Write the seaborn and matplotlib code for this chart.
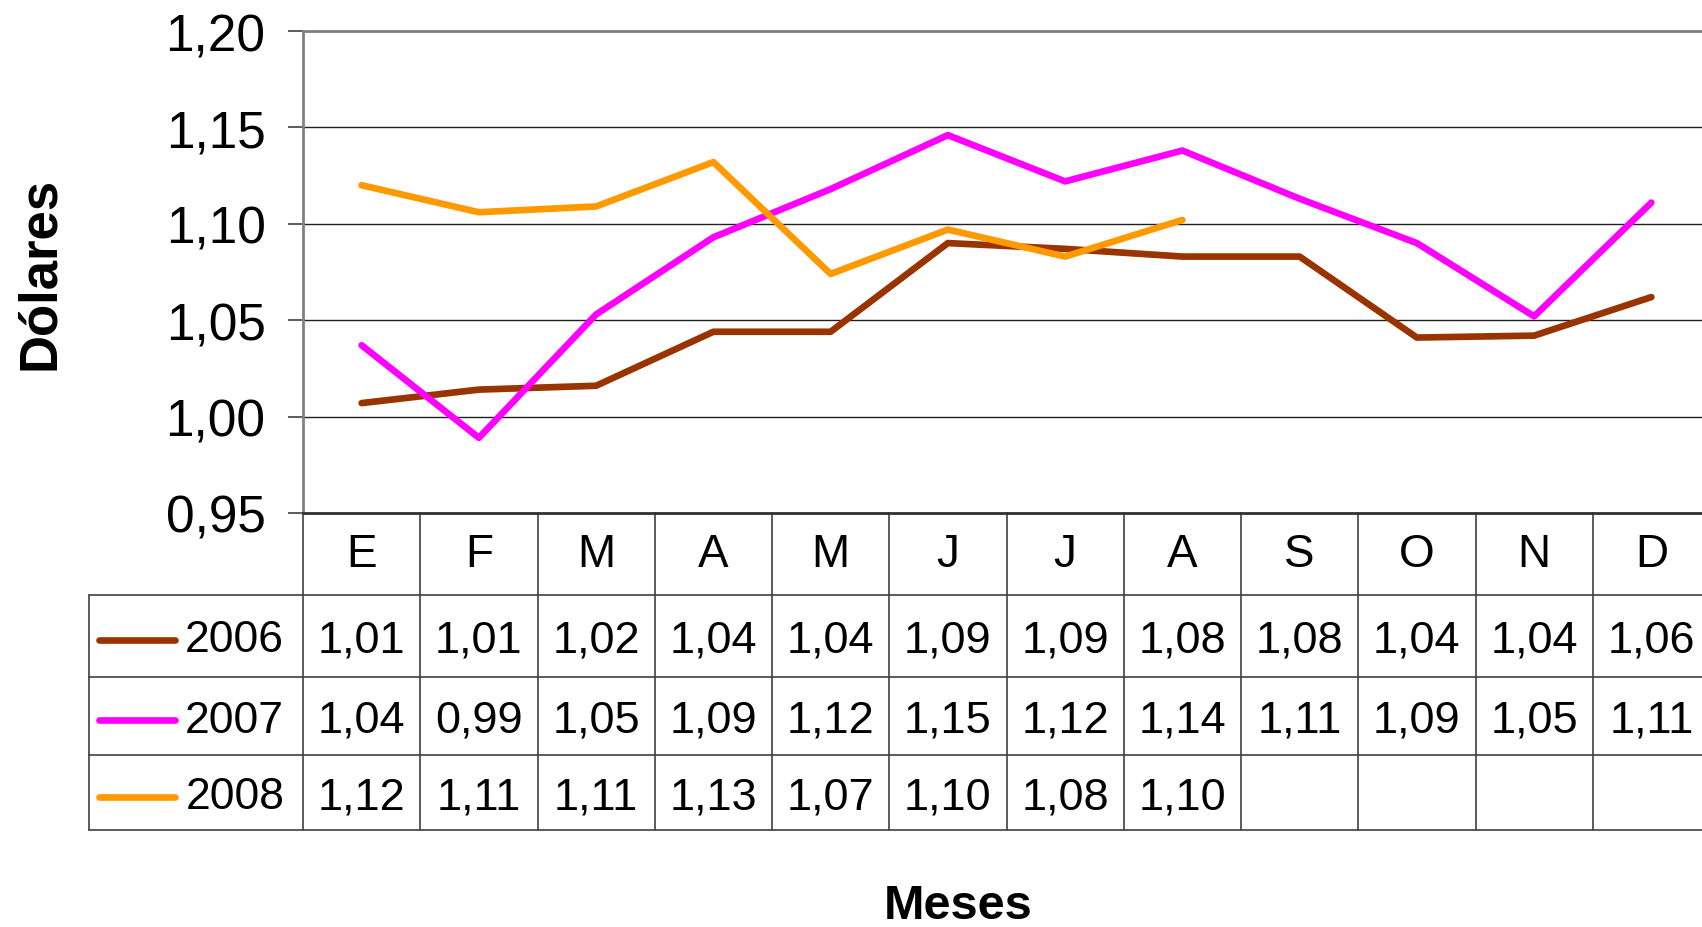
import pandas as pd
import seaborn as sns
import matplotlib.pyplot as plt
from matplotlib.transforms import blended_transform_factory

# Monthly values (USD)
months = ["E", "F", "M", "A", "M", "J", "J", "A", "S", "O", "N", "D"]
years = ["2006", "2007", "2008"]
vals_2006 = [1.007, 1.014, 1.016, 1.044, 1.044, 1.090, 1.087, 1.083, 1.083, 1.041, 1.042, 1.062]
vals_2007 = [1.037, 0.989, 1.053, 1.093, 1.118, 1.146, 1.122, 1.138, 1.113, 1.090, 1.052, 1.111]
vals_2008 = [1.120, 1.106, 1.109, 1.132, 1.074, 1.097, 1.083, 1.102]
colors = {"2006": "#993300", "2007": "#FF00FF", "2008": "#FF9900"}
yticks = [0.95, 1.00, 1.05, 1.10, 1.15, 1.20]

series = {"2006": vals_2006, "2007": vals_2007, "2008": vals_2008}
rows = []
for yr, vals in series.items():
    for i, v in enumerate(vals):
        rows.append({"mes": i, "valor": v, "anio": yr})
df = pd.DataFrame(rows)

sns.set_theme(style="white")
plt.rcParams["font.family"] = ["Liberation Sans", "DejaVu Sans"]
plt.rcParams["text.color"] = "black"
plt.rcParams["ytick.color"] = "black"
plt.rcParams["ytick.labelcolor"] = "black"

W, H = 1702, 928
fig = plt.figure(figsize=(W / 100, H / 100), dpi=100)
ax = fig.add_axes([303 / W, (H - 514) / H, 1407 / W, 482 / H])

sns.lineplot(data=df, x="mes", y="valor", hue="anio", palette=colors,
             linewidth=4.8, legend=False, ax=ax, solid_capstyle="round")

ax.set_xlim(-0.5, 11.5)
ax.set_ylim(0.95, 1.20)
ax.set_yticks(yticks)
ax.set_yticklabels([f"{t:.2f}".replace(".", ",") for t in yticks], fontsize=37)
ax.tick_params(axis="y", direction="out", length=11, width=1.2, color="#404040",
               pad=16, left=True)
ax.set_xticks([])
ax.set_xlabel("")
ax.set_ylabel("")
for t in yticks[1:-1]:
    ax.axhline(t, color="#202020", linewidth=1, zorder=0)

for side in ["top", "left"]:
    ax.spines[side].set_color("#808080")
    ax.spines[side].set_linewidth(2)
ax.spines["bottom"].set_color("#303030")
ax.spines["bottom"].set_linewidth(2)
ax.spines["right"].set_visible(False)

# data table under the plot (x in data units, y in axes fraction)
tr = blended_transform_factory(ax.transData, ax.transAxes)
row_edges = [0, -0.170, -0.340, -0.503, -0.658]
table_left = -2.328
line_kw = dict(transform=tr, clip_on=False, color="#404040", linewidth=1.2)

for k in range(13):
    x = k - 0.5
    ax.plot([x, x], [row_edges[0], row_edges[-1]], **line_kw)
ax.plot([table_left, table_left], [row_edges[1], row_edges[-1]], **line_kw)
for y in row_edges[1:]:
    ax.plot([table_left, 11.5], [y, y], **line_kw)

hdr_y = (row_edges[0] + row_edges[1]) / 2
for i, m in enumerate(months):
    ax.text(i, hdr_y, m, transform=tr, ha="center", va="center", fontsize=33)

for r, yr in enumerate(years):
    yc = (row_edges[r + 1] + row_edges[r + 2]) / 2 - 0.008
    ax.plot([-2.243, -1.59], [yc, yc], transform=tr, clip_on=False,
            color=colors[yr], linewidth=4.8, solid_capstyle="round")
    ax.text(-0.66, yc, yr, transform=tr, ha="right", va="center", fontsize=32)
    for i, v in enumerate(series[yr]):
        ax.text(i, yc, f"{v:.2f}".replace(".", ","), transform=tr,
                ha="center", va="center", fontsize=32.5)

fig.text(40 / W, 1 - 273 / H, "Dólares", rotation=90, ha="center", va="center",
         fontsize=38, fontweight="bold")
fig.text(958 / W, 1 - 907 / H, "Meses", ha="center", va="center",
         fontsize=35, fontweight="bold")

fig.savefig("out.png", dpi=100)
